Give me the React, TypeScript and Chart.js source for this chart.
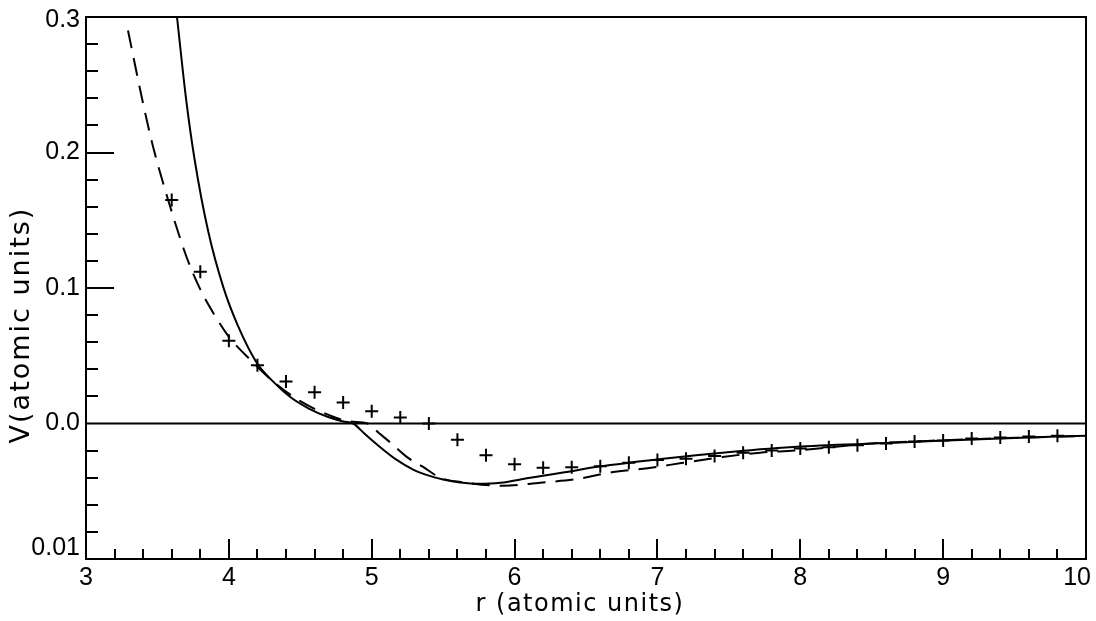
import React, { useEffect, useRef } from "react";
import { Chart, registerables } from "chart.js";

Chart.register(...registerables);

// Solid curve (r, V)
const solidR = [3.637, 3.70, 3.76, 3.855, 3.96, 4.06, 4.20, 4.30, 4.43, 4.56, 4.69, 4.80, 4.87, 4.95, 5.06, 5.17, 5.29, 5.40, 5.50, 5.62, 5.75, 5.90, 6.11, 6.35, 6.58, 7.04, 7.51, 8.0, 8.7, 9.4, 10.0];
const solidV = [0.300, 0.240, 0.195, 0.142, 0.101, 0.073, 0.044, 0.032, 0.0195, 0.011, 0.005, 0.0015, 0.0, -0.0075, -0.0175, -0.0265, -0.034, -0.0385, -0.0413, -0.0435, -0.0445, -0.0438, -0.040, -0.036, -0.032, -0.026, -0.021, -0.017, -0.014, -0.011, -0.009];

// Dashed curve (r, V)
const dashR = [3.294, 3.40, 3.47, 3.575, 3.70, 3.80, 3.90, 4.00, 4.15, 4.31, 4.50, 4.73, 4.85, 4.97, 5.05, 5.13, 5.25, 5.36, 5.48, 5.65, 5.92, 6.18, 6.44, 6.68, 6.93, 7.18, 7.44, 7.72, 7.96, 8.5, 9.0, 9.5, 10.0];
const dashV = [0.290, 0.236, 0.204, 0.165, 0.124, 0.099, 0.080, 0.064, 0.047, 0.031, 0.0165, 0.005, 0.0015, 0.0, -0.007, -0.014, -0.025, -0.032, -0.040, -0.0435, -0.046, -0.0437, -0.041, -0.036, -0.033, -0.029, -0.025, -0.0215, -0.020, -0.0148, -0.0124, -0.0106, -0.0092];

// Cross markers (r, V)
const crossR = [3.6, 3.8, 4.0, 4.2, 4.4, 4.6, 4.8, 5.0, 5.2, 5.4, 5.6, 5.8, 6.0, 6.2, 6.4, 6.6, 6.8, 7.0, 7.2, 7.4, 7.6, 7.8, 8.0, 8.2, 8.4, 8.6, 8.8, 9.0, 9.2, 9.4, 9.6, 9.8];
const crossV = [0.165, 0.112, 0.061, 0.043, 0.031, 0.023, 0.0155, 0.009, 0.0044, 0.0, -0.012, -0.0235, -0.030, -0.0327, -0.0322, -0.0315, -0.029, -0.027, -0.026, -0.024, -0.0215, -0.020, -0.0185, -0.0175, -0.016, -0.0148, -0.0133, -0.0126, -0.011, -0.0103, -0.0096, -0.009];

// Axis ticks and labels
const xTickValues = [3, 4, 5, 6, 7, 8, 9, 10];
const xTickLabels = ["3", "4", "5", "6", "7", "8", "9", "10"];
const yTickValues = [-0.1, 0.0, 0.1, 0.2, 0.3];
const yTickLabels = ["0.01", "0.0", "0.1", "0.2", "0.3"];
const xTitle = "r (atomic units)";
const yTitle = "V(atomic units)";

const toPts = (xs: number[], ys: number[]) => xs.map((x, i) => ({ x, y: ys[i] }));

const framePlugin = {
  id: "frame",
  afterDraw(chart: any) {
    const { ctx, chartArea: ca, scales } = chart;
    const xs = scales.x;
    const ys = scales.y;
    ctx.save();
    ctx.strokeStyle = "#000";
    ctx.lineWidth = 2;
    ctx.lineCap = "butt";
    ctx.setLineDash([]);
    // box
    ctx.strokeRect(ca.left, ca.top, ca.right - ca.left, ca.bottom - ca.top);
    // zero line
    const y0 = ys.getPixelForValue(0);
    ctx.beginPath();
    ctx.moveTo(ca.left, y0);
    ctx.lineTo(ca.right, y0);
    ctx.stroke();
    // x ticks (inward)
    for (let i = 1; i < 35; i++) {
      const v = 3 + i * 0.2;
      const px = Math.round(xs.getPixelForValue(v));
      const len = i % 5 === 0 ? 20 : 10;
      ctx.beginPath();
      ctx.moveTo(px, ca.bottom);
      ctx.lineTo(px, ca.bottom - len);
      ctx.stroke();
    }
    // y ticks (inward)
    for (let i = 1; i < 20; i++) {
      const v = -0.1 + i * 0.02;
      if (i === 5) continue;
      const py = Math.round(ys.getPixelForValue(v));
      const len = i % 5 === 0 ? 28 : 12;
      ctx.beginPath();
      ctx.moveTo(ca.left, py);
      ctx.lineTo(ca.left + len, py);
      ctx.stroke();
    }
    // tick labels
    ctx.fillStyle = "#000";
    ctx.font = "25px 'Liberation Sans'";
    ctx.textBaseline = "middle";
    ctx.textAlign = "center";
    xTickValues.forEach((v, i) => {
      const label = xTickLabels[i];
      const w = ctx.measureText(label).width;
      let cx = xs.getPixelForValue(v);
      cx = Math.min(cx, 1091 - w / 2);
      ctx.fillText(label, cx, ca.bottom + 19);
    });
    ctx.textAlign = "right";
    yTickValues.forEach((v, i) => {
      let cy = ys.getPixelForValue(v);
      cy = Math.max(ca.top + 3, Math.min(cy, ca.bottom - 11));
      ctx.fillText(yTickLabels[i], ca.left - 6, cy);
    });
    // titles
    ctx.font = "24px 'DejaVu Sans'";
    (ctx as any).letterSpacing = "1.5px";
    ctx.textAlign = "center";
    ctx.fillText(xTitle, 580, 605);
    ctx.translate(22, 325);
    ctx.rotate(-Math.PI / 2);
    ctx.font = "27px 'DejaVu Sans'";
    (ctx as any).letterSpacing = "2px";
    ctx.fillText(yTitle, 0, 0);
    ctx.restore();
  },
};

export default function App() {
  const ref = useRef<HTMLCanvasElement>(null);
  useEffect(() => {
    const canvas = ref.current;
    if (!canvas) return;
    const chart = new Chart(canvas, {
      type: "line",
      data: {
        datasets: [
          {
            label: "solid",
            data: toPts(solidR, solidV),
            borderColor: "#000",
            borderWidth: 2,
            pointRadius: 0,
            cubicInterpolationMode: "monotone",
            fill: false,
          },
          {
            label: "dashed",
            data: toPts(dashR, dashV),
            borderColor: "#000",
            borderWidth: 2,
            borderDash: [18, 10],
            pointRadius: 0,
            cubicInterpolationMode: "monotone",
            fill: false,
          },
          {
            label: "crosses",
            type: "scatter",
            data: toPts(crossR, crossV),
            borderColor: "#000",
            backgroundColor: "#000",
            borderWidth: 2,
            pointStyle: "cross",
            pointRadius: 6.5,
            showLine: false,
          } as any,
        ],
      },
      options: {
        animation: false,
        responsive: false,
        devicePixelRatio: 1,
        layout: { padding: { top: 17, right: 10, left: 0, bottom: 0 } },
        plugins: { legend: { display: false }, tooltip: { enabled: false } },
        scales: {
          x: {
            type: "linear",
            min: 3,
            max: 10,
            grid: { display: false, drawTicks: false },
            border: { display: false },
            ticks: { display: false, stepSize: 1 },
            afterFit: (s: any) => {
              s.height = 62;
              s.paddingLeft = 0;
              s.paddingRight = 0;
            },
          },
          y: {
            type: "linear",
            min: -0.1,
            max: 0.3,
            grid: { display: false, drawTicks: false },
            border: { display: false },
            ticks: { display: false, stepSize: 0.1 },
            afterFit: (s: any) => {
              s.width = 86;
              s.paddingTop = 0;
              s.paddingBottom = 0;
            },
          },
        },
      } as any,
      plugins: [framePlugin],
    });
    return () => chart.destroy();
  }, []);
  return (
    <div style={{ position: "fixed", left: 0, top: 0, width: 1096, height: 621, background: "#fff" }}>
      <canvas ref={ref} width={1096} height={621} />
    </div>
  );
}
